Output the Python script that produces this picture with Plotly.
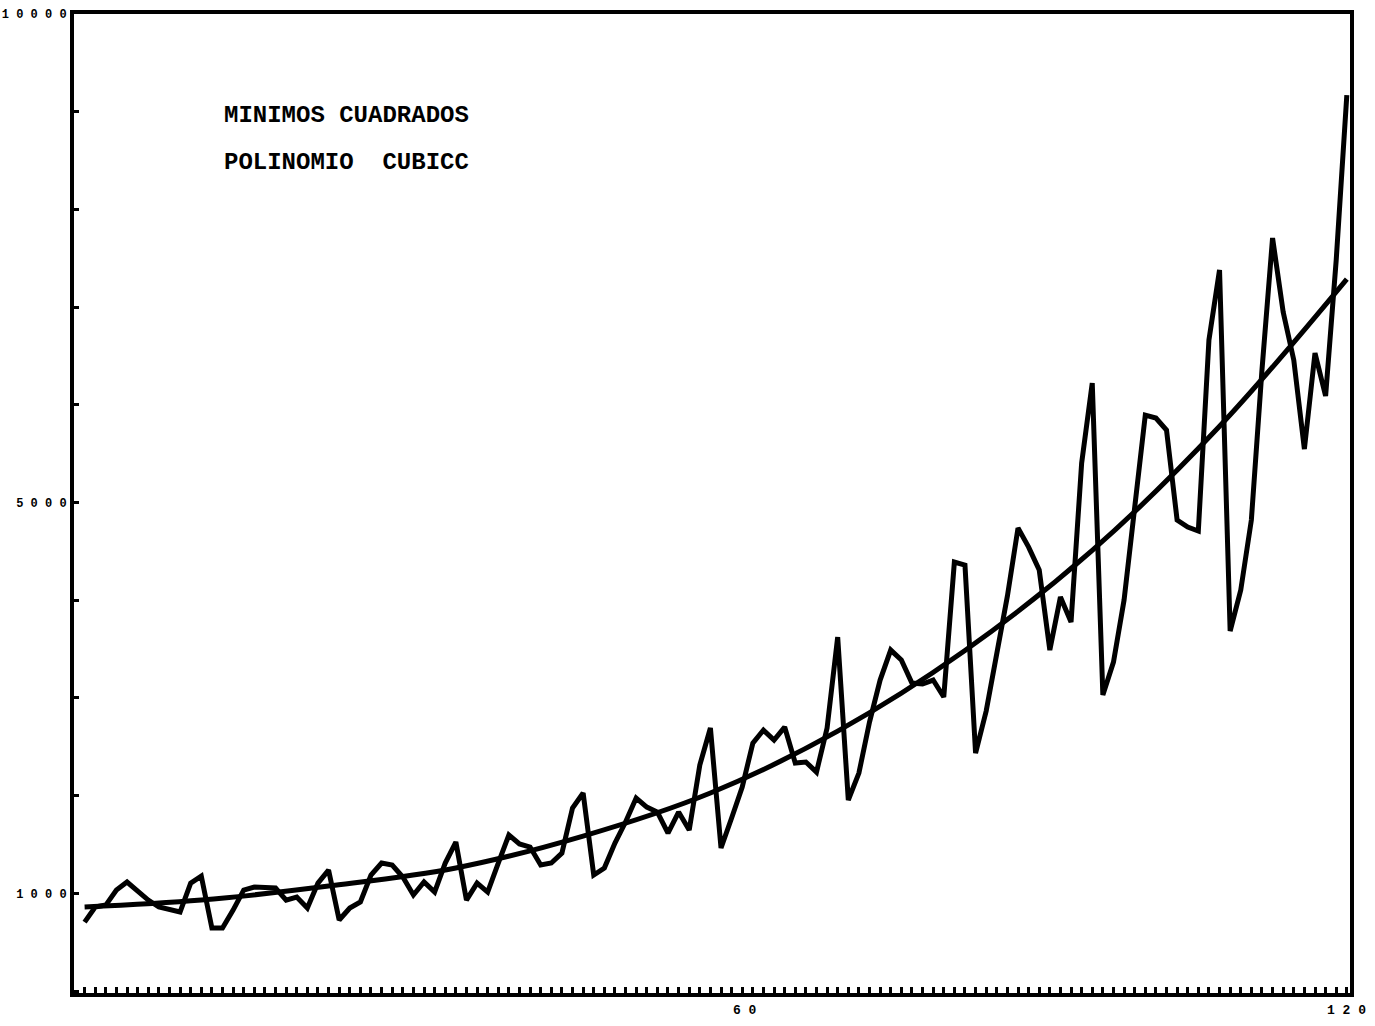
import plotly.graph_objects as go

# Monthly series, 120 periods
months = list(range(1, 121))
observed = [
    706, 860, 880, 1034, 1116, 1024, 931, 860, 839, 809, 1105, 1177,
    645, 645, 829, 1034, 1064, 1064, 1054, 931, 962, 850, 1105, 1238,
    727, 850, 911, 1187, 1310, 1290, 1167, 983, 1116, 1013, 1310, 1525,
    931, 1105, 1013, 1310, 1597, 1505, 1474, 1290, 1310, 1412, 1873, 2027,
    1187, 1259, 1515, 1730, 1975, 1883, 1832, 1617, 1832, 1648, 2313, 2692,
    1464, 1771, 2088, 2538, 2671, 2569, 2702, 2334, 2344, 2241, 2692, 3623,
    1955, 2231, 2753, 3183, 3490, 3388, 3152, 3142, 3183, 3009, 4391, 4360,
    2436, 2866, 3429, 4043, 4739, 4544, 4309, 3490, 4033, 3777, 5404, 6223,
    3030, 3367, 4002, 4974, 5895, 5865, 5742, 4821, 4749, 4708, 6663, 7380,
    3685, 4104, 4821, 6356, 7707, 6950, 6458, 5547, 6530, 6090, 7482, 9170,
]

# Cubic least-squares trend, sampled once a year
trend_months = [1, 12, 24, 36, 48, 60, 72, 84, 96, 108, 120]
trend_values = [860, 931, 1075, 1260, 1586, 2027, 2660, 3485, 4510, 5780, 7287]

y_ticks = list(range(0, 10001, 1000))
y_tick_text = ["", "1 0 0 0", "", "", "", "5 0 0 0", "", "", "", "", "1 0 0 0 0"]

x_labels = [(63.3, "6 0"), (120.0, "1 2 0")]

title_lines = ["MINIMOS CUADRADOS", "POLINOMIO\u00a0 CUBICC"]

mono = "Liberation Mono, DejaVu Sans Mono, monospace"

fig = go.Figure()
fig.add_trace(go.Scatter(
    x=months, y=observed, mode="lines",
    line=dict(color="black", width=5), showlegend=False, hoverinfo="skip",
))
fig.add_trace(go.Scatter(
    x=trend_months, y=trend_values, mode="lines",
    line=dict(color="black", width=5, shape="spline", smoothing=1.0),
    showlegend=False, hoverinfo="skip",
))

annotations = []
for xv, txt in x_labels:
    annotations.append(dict(
        x=xv, y=0, xref="x", yref="paper", text="<b>%s</b>" % txt,
        showarrow=False, xanchor="center", yanchor="middle", yshift=-17,
        font=dict(family=mono, size=13, color="black"),
    ))
for txt, yp in zip(title_lines, [0.896, 0.848]):
    annotations.append(dict(
        x=0.116, y=yp, xref="paper", yref="paper", text="<b>%s</b>" % txt,
        showarrow=False, xanchor="left", yanchor="middle",
        font=dict(family=mono, size=24, color="black"),
    ))

fig.update_layout(
    width=1375, height=1026,
    margin=dict(l=74, r=25, t=14, b=33),
    paper_bgcolor="white", plot_bgcolor="white",
    annotations=annotations,
    xaxis=dict(
        range=[0, 120.3], showgrid=False, zeroline=False, automargin=False,
        showline=True, linecolor="black", linewidth=4, mirror=True,
        tickmode="linear", tick0=0, dtick=1,
        ticks="inside", ticklen=6, tickwidth=3, tickcolor="black",
        showticklabels=False,
    ),
    yaxis=dict(
        range=[-20, 10000], showgrid=False, zeroline=False, automargin=False,
        showline=True, linecolor="black", linewidth=4, mirror=True,
        tickmode="array", tickvals=y_ticks, ticktext=y_tick_text,
        ticks="inside", ticklen=5, tickwidth=3, tickcolor="black",
        ticklabelstandoff=1,
        tickfont=dict(family=mono, size=12, color="black", weight="bold"),
    ),
)

fig.write_html("out.html")
